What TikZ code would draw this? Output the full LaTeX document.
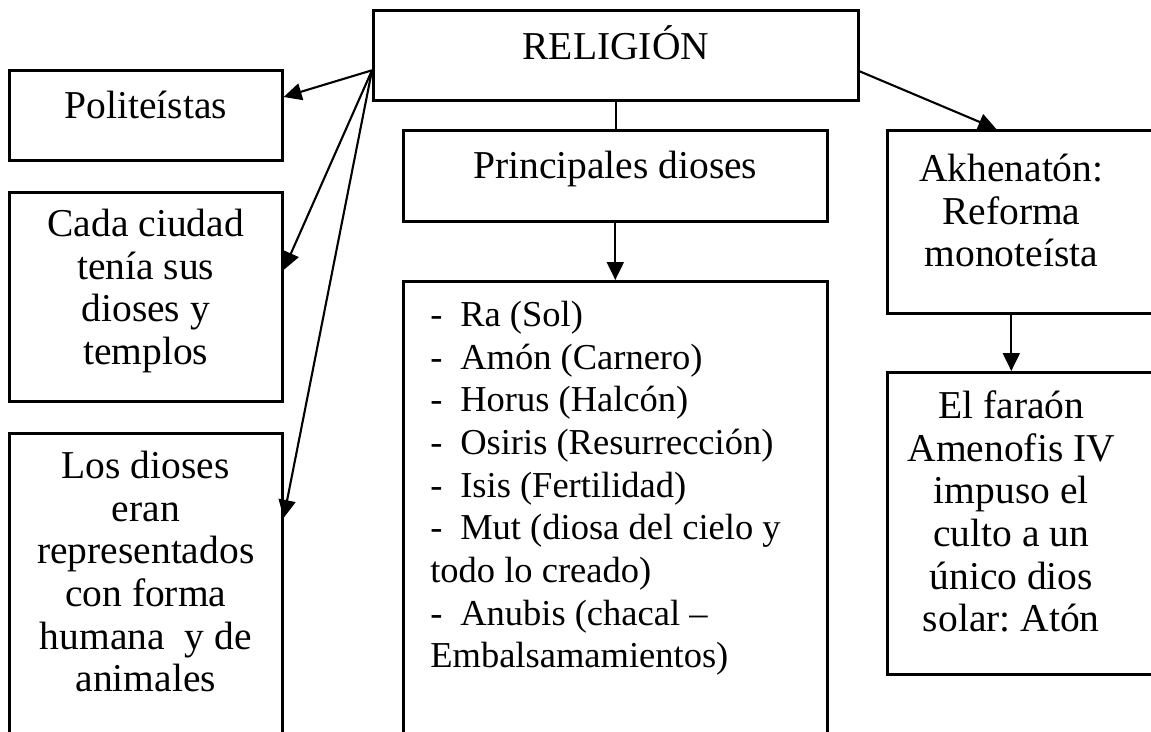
\documentclass[tikz,border=0pt]{standalone}
\usepackage{fontspec}
\setmainfont{Liberation Serif}
\usetikzlibrary{arrows.meta}
\frenchspacing

\newlength{\topoff}
\setlength{\topoff}{38pt}
% texto de una caja: ancho, alto, primera linea base, texto
\newcommand{\cajatxt}[4]{\parbox[c][#2pt][t]{#1pt}{\centering\vspace*{\dimexpr#3pt-\topoff\relax}\rule{0pt}{\topoff}#4}}
\newcommand{\guion}{\makebox[30pt][l]{-}}

\tikzset{
  caja/.style={draw, line width=2.6pt, inner sep=0pt, anchor=north west,
    font=\fontsize{39.5}{42.7}\selectfont},
  flecha/.style={-{Triangle[length=18pt,width=17pt]}, line width=2.1pt},
}

\begin{document}
\begin{tikzpicture}[x=1pt,y=-1pt]
  \useasboundingbox (0,0) rectangle (1151,731);

  \node[caja] (rel)  at (372,9)   {\cajatxt{485}{90}{49}{RELIGIÓN}};
  \node[caja] (pol)  at (8,69)    {\cajatxt{273}{90}{48}{Politeístas}};
  \node[caja] (cada) at (8,191)   {\cajatxt{273}{209}{44}{Cada ciudad\\ tenía sus\\ dioses y\\ templos}};
  \node[caja] (losd) at (8,432)   {\cajatxt{273}{330}{45}{Los dioses\\ eran\\ representados\\ con forma\\ humana\ \ y de\\ animales}};
  \node[caja] (prin) at (402,129) {\cajatxt{424}{91}{48}{Principales dioses}};
  \node[caja, font=\fontsize{36.5}{42.7}\selectfont] (dios) at (402,280)
    {\cajatxt{424}{480}{45}{\raggedright\leftskip=27pt
      \guion Ra (Sol)\\ \guion Amón (Carnero)\\ \guion Horus (Halcón)\\
      \guion Osiris (Resurrección)\\ \guion Isis (Fertilidad)\\
      \guion Mut (diosa del cielo y\\ todo lo creado)\\
      \guion Anubis (chacal –\\ Embalsamamientos)}};
  \node[caja] (akh)  at (886,129) {\cajatxt{248}{183}{51}{Akhenatón:\\ Reforma\\ monoteísta}\hspace*{30pt}};
  \node[caja] (far)  at (886,371) {\cajatxt{248}{302}{46}{El faraón\\ Amenofis IV\\ impuso el\\ culto a un\\ único dios\\ solar: Atón}\hspace*{30pt}};

  \draw[flecha] ([yshift=-15pt]rel.west) -- ([yshift=-28pt]pol.north east);
  \draw[flecha] ([yshift=-15pt]rel.west) -- ([yshift=-79pt]cada.north east);
  \draw[flecha] ([yshift=-15pt]rel.west) -- ([yshift=-86pt]losd.north east);
  \draw[line width=2.1pt] (rel.south) -- (rel.south |- prin.north);
  \draw[flecha] (prin.south) -- (dios.north);
  \draw[flecha] ([yshift=-16pt]rel.east) -- ([xshift=-30pt]akh.north);
  \draw[flecha] ([xshift=-15pt]akh.south) -- ([xshift=-15pt]far.north);
\end{tikzpicture}
\end{document}
